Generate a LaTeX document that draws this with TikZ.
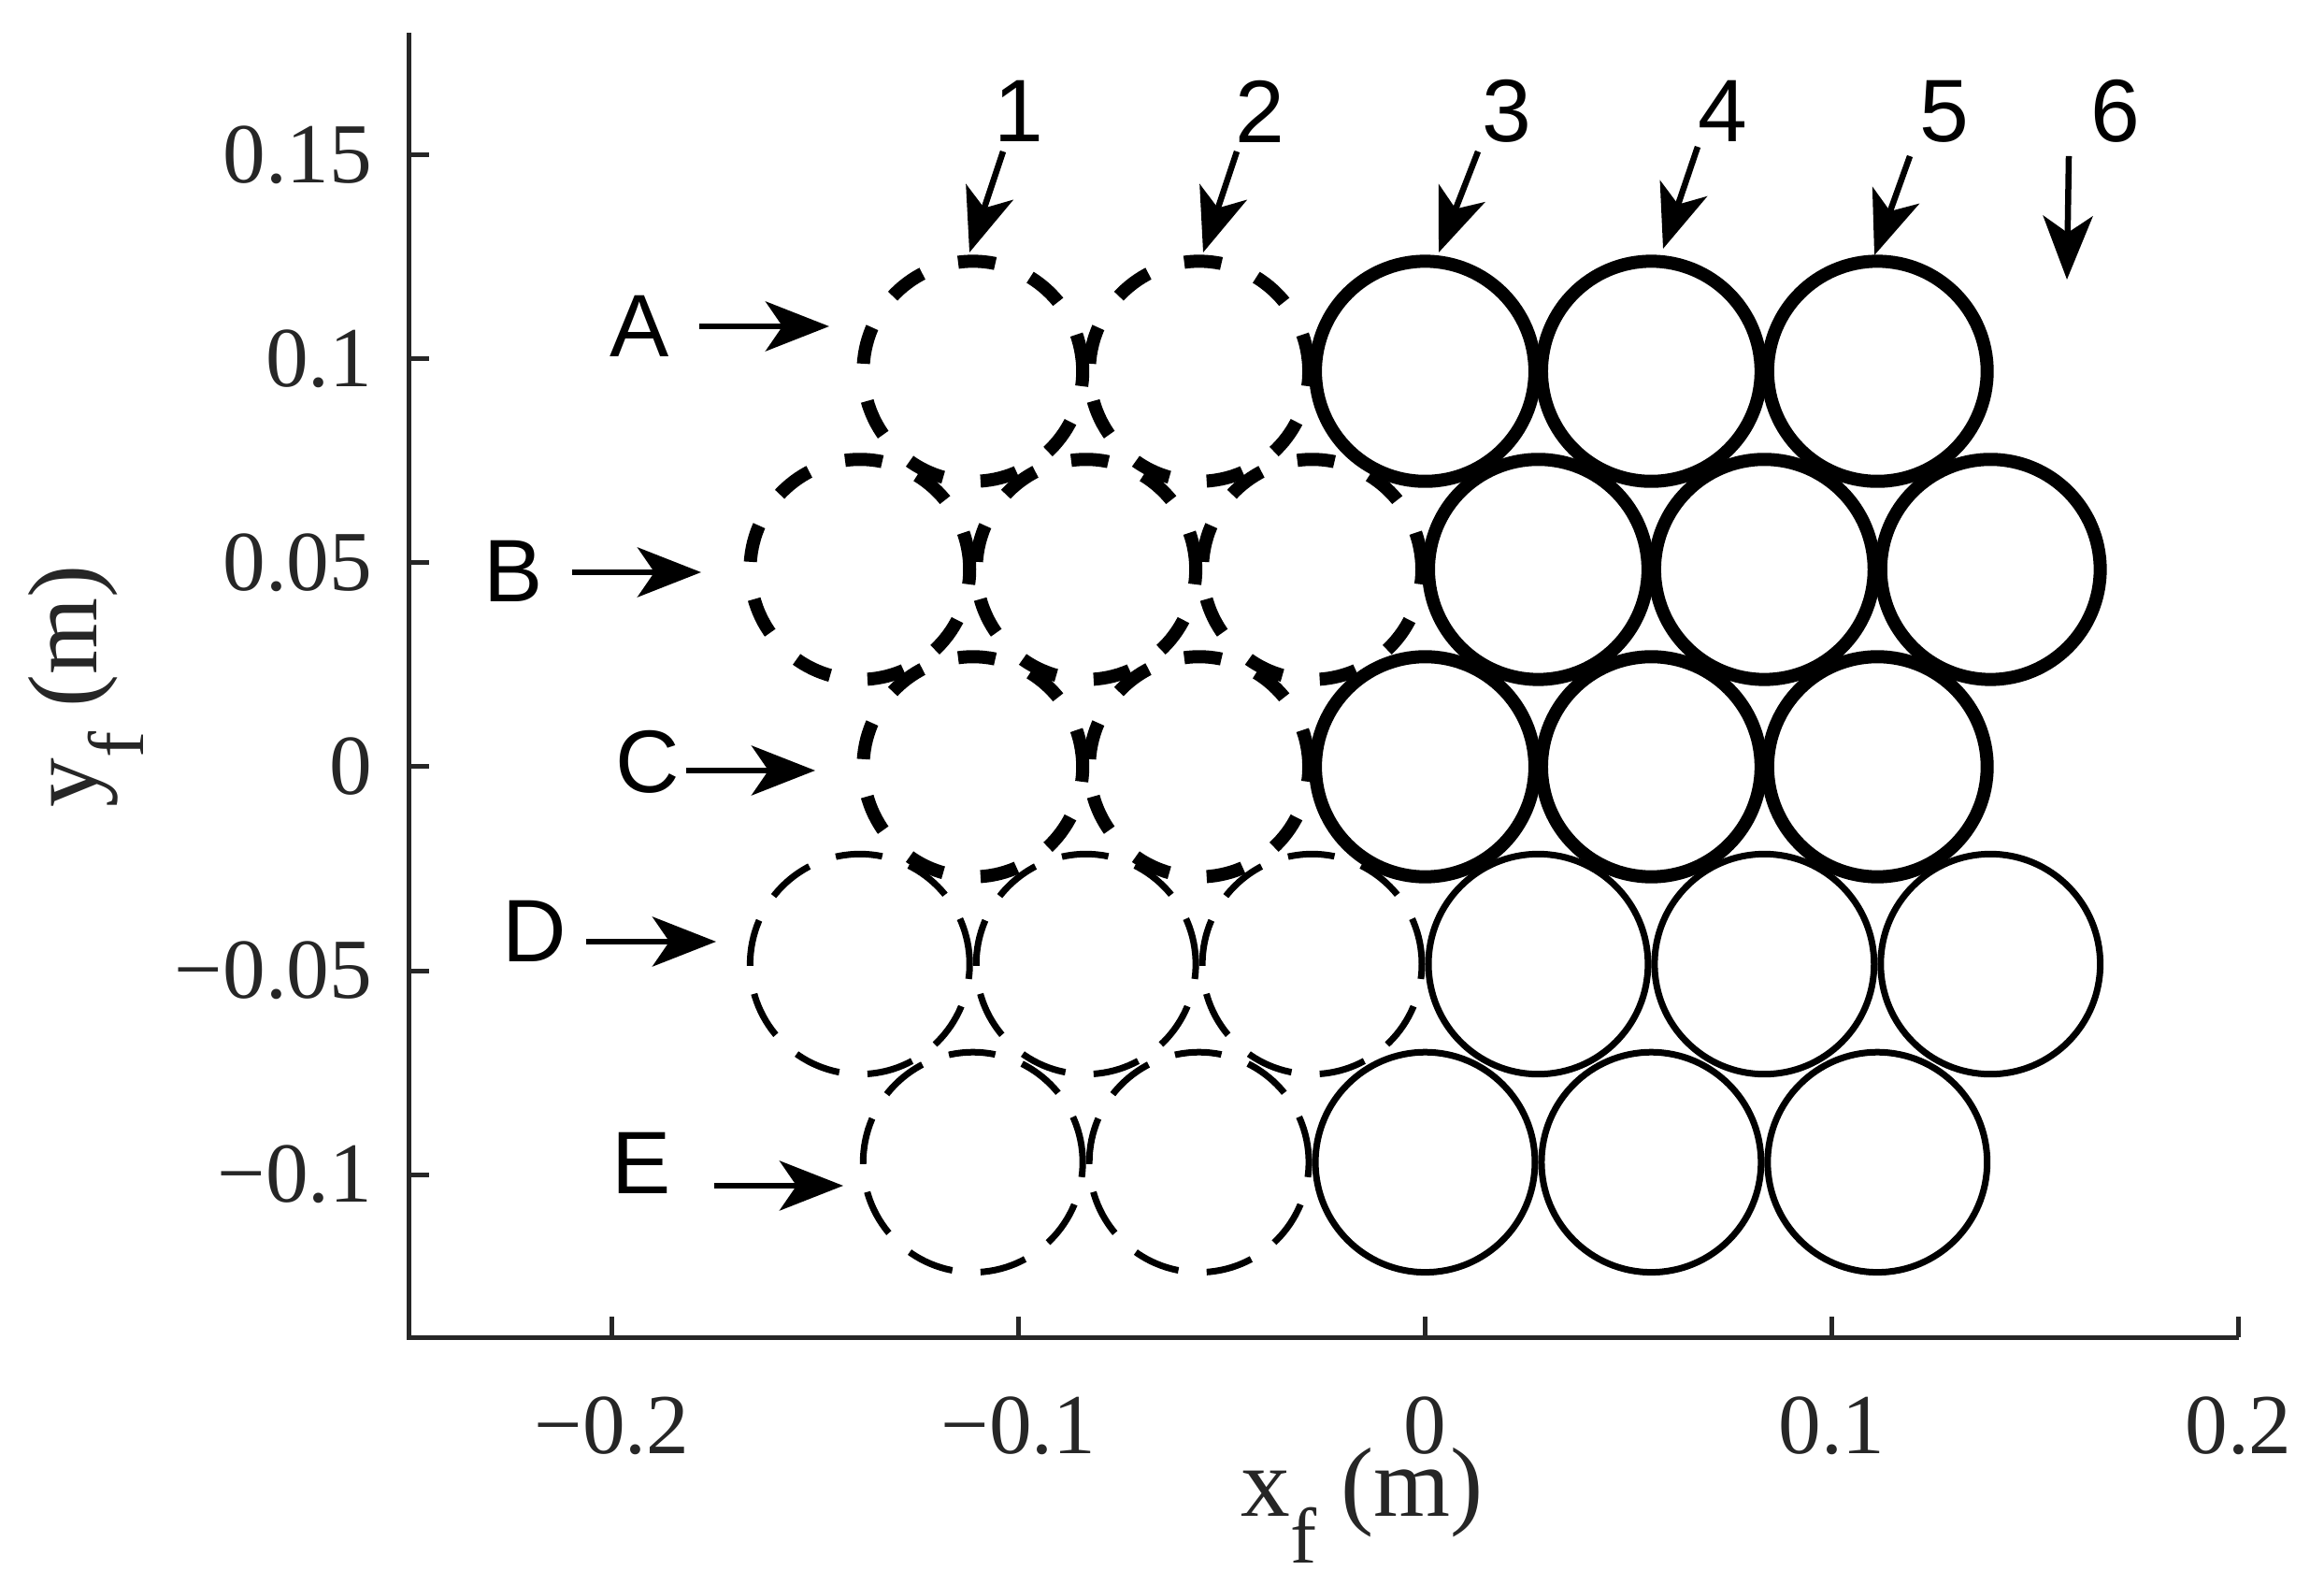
\documentclass[tikz,border=0pt]{standalone}
\usepackage{fontspec}
\usepackage{tikz}
\usetikzlibrary{arrows.meta}
\newfontfamily\numserif{Liberation Serif}
\newfontfamily\labsans{Liberation Sans}
\definecolor{axisgray}{HTML}{262626}
\tikzset{
  axisline/.style={line width=0.05cm, draw=axisgray},
  ticknum/.style={font=\numserif\fontsize{26}{26}\selectfont, text=axisgray, inner sep=0pt},
  axlabel/.style={font=\numserif\fontsize{30}{30}\selectfont, text=axisgray, inner sep=0pt},
  packlabel/.style={font=\labsans\fontsize{27}{27}\selectfont, inner sep=0pt},
  pointer/.style={line width=0.065cm, -{Stealth[length=6.8mm,width=5.3mm,inset=1.8mm]}},
  heavy/.style={line width=0.14cm},
  light/.style={line width=0.07cm},
  heavydash/.style={heavy, dash pattern=on 0.40cm off 0.403cm},
  lightdash/.style={light, dash pattern=on 0.50cm off 0.303cm}
}
\newcommand{\subf}{\raisebox{-0.5cm}{\fontsize{24}{24}\selectfont f}}
\begin{document}
\begin{tikzpicture}
	\useasboundingbox (0,0) rectangle (24.86,16.95);
	% data frame: metres
	\begin{scope}[shift={(15.245,8.75)}, x=43.5cm, y=43.6cm]
		\draw[axisline] (-0.25,0.18) -- (-0.25,-0.14) -- (0.2,-0.14);
		\foreach \t/\s in {-0.2/−0.2, -0.1/−0.1, 0/0, 0.1/0.1, 0.2/0.2} {
			\draw[axisline] (\t,-0.14) -- ++(0,0.22cm);
			\node[ticknum, anchor=base] (xt\t) at ([yshift=-1.24cm]\t,-0.14) {\s};
		}
		\foreach \t/\s in {0.15/0.15, 0.1/0.1, 0.05/0.05, 0/0, -0.05/−0.05, -0.1/−0.1} {
			\draw[axisline] (-0.25,\t) -- ++(0.22cm,0);
			\node[ticknum, anchor=east] (yt\t) at ([xshift=-0.38cm]-0.25,\t) {\s};
		}
		% rows A, C, E
		\foreach \cy/\sty in {0.097/heavy, 0/heavy, -0.097/light} {
			\foreach \cx in {-0.1112,-0.0556}
				\draw[\sty dash] (\cx,\cy) circle[radius=0.027];
			\foreach \cx in {0,0.0556,0.1112}
				\draw[\sty] (\cx,\cy) circle[radius=0.027];
		}
		% rows B, D
		\foreach \cy/\sty in {0.0484/heavy, -0.0484/light} {
			\foreach \cx in {-0.139,-0.0834,-0.0278}
				\draw[\sty dash] (\cx,\cy) circle[radius=0.027];
			\foreach \cx in {0.0278,0.0834,0.139}
				\draw[\sty] (\cx,\cy) circle[radius=0.027];
		}
	\end{scope}
	% axis titles
	\node[axlabel, anchor=base] (xlab) at (14.57,0.73) {x\subf\ (m)};
	\node[axlabel, anchor=base, rotate=90] (ylab) at (1.03,9.61) {y\subf\ (m)};
	% row labels
	\node[packlabel] (lA) at (6.84,13.46) {A};
	\node[packlabel] (lB) at (5.49,10.84) {B};
	\node[packlabel] (lC) at (6.93,8.80) {C};
	\node[packlabel] (lD) at (5.72,6.99) {D};
	\node[packlabel] (lE) at (6.86,4.51) {E};
	% column labels
	\node[packlabel] (l1) at (10.90,15.76) {1};
	\node[packlabel] (l2) at (13.48,15.76) {2};
	\node[packlabel] (l3) at (16.12,15.76) {3};
	\node[packlabel] (l4) at (18.43,15.76) {4};
	\node[packlabel] (l5) at (20.80,15.76) {5};
	\node[packlabel] (l6) at (22.63,15.76) {6};
	% arrows
	\foreach \n/\tx/\ty/\hx/\hy in {A/7.48/13.46/8.87/13.46, B/6.12/10.83/7.50/10.83,
		C/7.34/8.71/8.72/8.71, D/6.27/6.88/7.66/6.88, E/7.64/4.27/9.02/4.27,
		1/10.73/15.33/10.37/14.25, 2/13.23/15.33/12.87/14.25, 3/15.81/15.33/15.39/14.25,
		4/18.16/15.38/17.79/14.29, 5/20.43/15.28/20.05/14.22, 6/22.13/15.28/22.11/13.96} {
		\coordinate (t\n) at (\tx,\ty);
		\coordinate (h\n) at (\hx,\hy);
		\draw[pointer] (t\n) -- (h\n);
	}
\end{tikzpicture}
\end{document}
